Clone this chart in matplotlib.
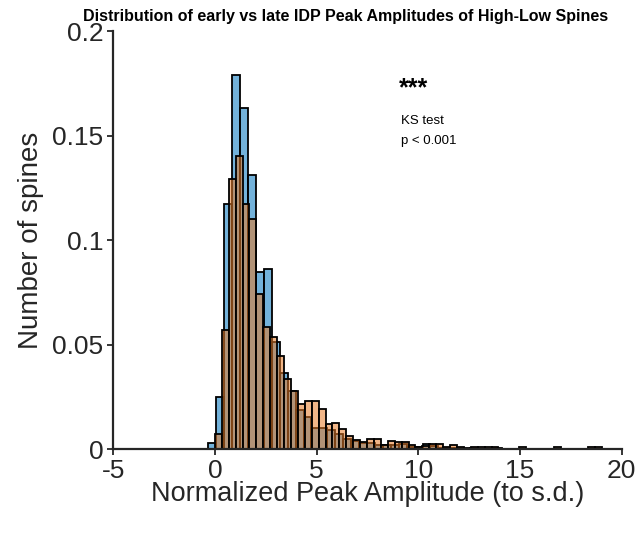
import numpy as np
import matplotlib
matplotlib.use('Agg')
import matplotlib.pyplot as plt

# bin setup
early_start, early_width = -0.32, 0.39
late_start, late_width = 0.0, 0.34

# early IDP (blue) probabilities per bin
early_vals = [0.003, 0.025, 0.117, 0.179, 0.163, 0.131, 0.0845, 0.086, 0.051, 0.0365,
              0.028, 0.0187, 0.0155, 0.0099, 0.0099, 0.009, 0.007, 0.005, 0.004, 0.003,
              0.003, 0.002, 0.002, 0.002, 0.0025, 0.001, 0.001, 0.0025, 0.0015, 0.0006,
              0.0006, 0.0006, 0.0, 0.0006, 0.0, 0.0, 0.0006, 0.0, 0.0, 0.0,
              0.0, 0.0, 0.0, 0.0, 0.0, 0.0, 0.0, 0.0, 0.0]

# late IDP (orange) probabilities per bin
late_vals = [0.007, 0.057, 0.129, 0.140, 0.117, 0.110, 0.074, 0.0585, 0.0534, 0.0445,
             0.0333, 0.0277, 0.0215, 0.023, 0.0228, 0.019, 0.012, 0.0126, 0.0096, 0.0064,
             0.0043, 0.0032, 0.005, 0.005, 0.002, 0.0038, 0.0032, 0.0035, 0.002, 0.001,
             0.0015, 0.0022, 0.0022, 0.001, 0.0019, 0.0008, 0.0006, 0.0012, 0.0012, 0.0012,
             0.0012, 0.0, 0.0, 0.0, 0.0012, 0.0, 0.0, 0.0, 0.0, 0.0012,
             0.0, 0.0, 0.0, 0.0, 0.0012, 0.0012]

xticks = [-5, 0, 5, 10, 15, 20]
yticks = [0, 0.05, 0.1, 0.15, 0.2]
ytick_labels = ['0', '0.05', '0.1', '0.15', '0.2']

plt.rcParams['font.family'] = ['Liberation Sans', 'DejaVu Sans']
plt.rcParams['axes.unicode_minus'] = False
axcol = '#262626'

fig = plt.figure(figsize=(6.39, 5.35), dpi=100)
ax = fig.add_axes([0.177, 0.1607, 0.796, 0.7813])

blue = (0.0, 0.45, 0.74, 0.55)
orange = (0.90, 0.48, 0.15, 0.55)

e_left = early_start + early_width * np.arange(len(early_vals))
l_left = late_start + late_width * np.arange(len(late_vals))
ax.bar(e_left, early_vals, width=early_width, align='edge',
       facecolor=blue, edgecolor='black', linewidth=1.3)
ax.bar(l_left, late_vals, width=late_width, align='edge',
       facecolor=orange, edgecolor='black', linewidth=1.3)

ax.set_xlim(-5, 20)
ax.set_ylim(0, 0.2)
ax.set_xticks(xticks)
ax.set_yticks(yticks)
ax.set_yticklabels(ytick_labels)
ax.tick_params(direction='out', length=4, width=1.3, colors=axcol,
               labelsize=19, pad=3)
for s in ['top', 'right']:
    ax.spines[s].set_visible(False)
for s in ['left', 'bottom']:
    ax.spines[s].set_linewidth(1.6)
    ax.spines[s].set_color(axcol)

ax.set_xlabel('Normalized Peak Amplitude (to s.d.)', fontsize=19.5, color=axcol, labelpad=-1)
ax.set_ylabel('Number of spines', fontsize=20, color=axcol, labelpad=6)

fig.text(346 / 639, 1 - 17 / 535,
         'Distribution of early vs late IDP Peak Amplitudes of High-Low Spines',
         ha='center', va='center', fontsize=11.5, fontweight='bold', color='black')

ax.text(9.05, 0.1727, '***', fontsize=18, fontweight='bold', va='center', ha='left')
ax.text(9.15, 0.157, 'KS test', fontsize=9.5, va='center', ha='left')
ax.text(9.15, 0.1474, 'p < 0.001', fontsize=9.5, va='center', ha='left')

fig.savefig('out.png', dpi=100)
